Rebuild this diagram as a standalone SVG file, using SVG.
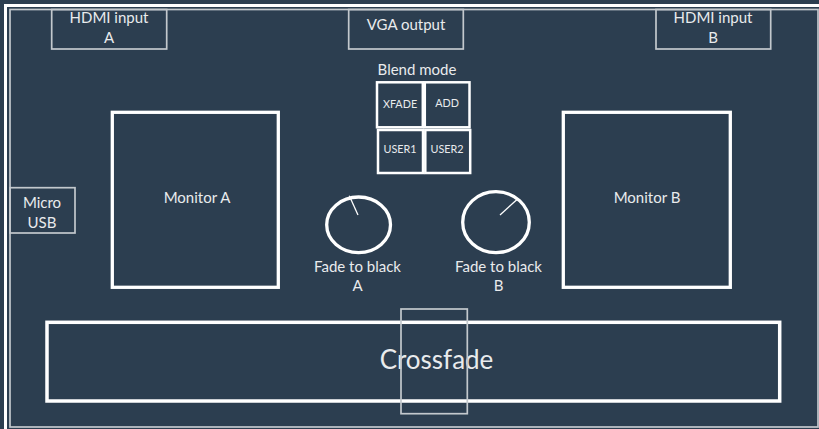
<svg xmlns="http://www.w3.org/2000/svg" width="819" height="429" viewBox="0 0 819 429">
<style>
.t{font-family:Lato,"Liberation Sans",sans-serif;fill:#e9ebed;text-anchor:middle;font-size:15px}
.s{font-size:10.8px}
.g{fill:none;stroke:#c3c8cd;stroke-width:1.7}
.w{fill:none;stroke:#ffffff;stroke-width:3.3}
.b{fill:none;stroke:#ffffff;stroke-width:2.5}
</style>
<rect x="0" y="0" width="819" height="429" fill="#2c3e50"/>
<g id="frame">
<rect x="5.5" y="5.5" width="830" height="440" fill="none" stroke="#ffffff" stroke-width="3"/>
<rect x="10" y="9.5" width="808" height="417.5" class="g"/>
</g>
<g id="hdmi-a">
<rect x="51.7" y="9.5" width="115" height="39.5" class="g"/>
<text class="t" x="109" y="23">HDMI input</text>
<text class="t" x="109" y="43">A</text>
</g>
<g id="vga">
<rect x="348.7" y="9.5" width="114.6" height="39.5" class="g"/>
<text class="t" x="406" y="29.5">VGA output</text>
</g>
<g id="hdmi-b">
<rect x="656" y="9.5" width="114.7" height="39.5" class="g"/>
<text class="t" x="713" y="23">HDMI input</text>
<text class="t" x="713" y="43">B</text>
</g>
<g id="micro-usb">
<rect x="10" y="187.7" width="65" height="45.3" class="g"/>
<text class="t" x="42" y="208">Micro</text>
<text class="t" x="42" y="228">USB</text>
</g>
<g id="monitor-a">
<rect x="112.3" y="112.3" width="166" height="175" class="w"/>
<text class="t" x="197" y="203">Monitor A</text>
</g>
<g id="monitor-b">
<rect x="563.3" y="112.3" width="167" height="175" class="w"/>
<text class="t" x="647" y="203">Monitor B</text>
</g>
<g id="blend-mode">
<text class="t" x="417" y="75">Blend mode</text>
<g id="xfade"><rect x="377" y="82.3" width="45.8" height="45" class="b"/><text class="t s" x="400" y="108">XFADE</text></g>
<g id="add"><rect x="424.8" y="82.3" width="44.7" height="45" class="b"/><text class="t s" x="447" y="106.5">ADD</text></g>
<g id="user1"><rect x="378" y="130" width="45" height="43" class="b"/><text class="t s" x="400" y="153">USER1</text></g>
<g id="user2"><rect x="425.3" y="130" width="44.9" height="43" class="b"/><text class="t s" x="447" y="153">USER2</text></g>
</g>
<g id="fade-a">
<ellipse cx="358.6" cy="224.8" rx="31.9" ry="27.8" class="w"/>
<line x1="349.3" y1="195.7" x2="358" y2="215" stroke="#ffffff" stroke-width="1.3"/>
<text class="t" x="357.5" y="271.5">Fade to black</text>
<text class="t" x="357.5" y="290.5">A</text>
</g>
<g id="fade-b">
<ellipse cx="496" cy="222.2" rx="33.3" ry="30.5" class="w"/>
<line x1="500" y1="215" x2="517.3" y2="199.3" stroke="#ffffff" stroke-width="1.3"/>
<text class="t" x="498.5" y="271.5">Fade to black</text>
<text class="t" x="498.5" y="290.5">B</text>
</g>
<g id="crossfade">
<rect x="47" y="322.3" width="732.7" height="78.7" fill="none" stroke="#ffffff" stroke-width="3.5"/>
<text class="t" x="436.5" y="369" style="font-size:26px">Crossfade</text>
<rect x="401" y="309" width="66.3" height="104.7" class="g"/>
</g>
<g id="connectors"/>
</svg>
